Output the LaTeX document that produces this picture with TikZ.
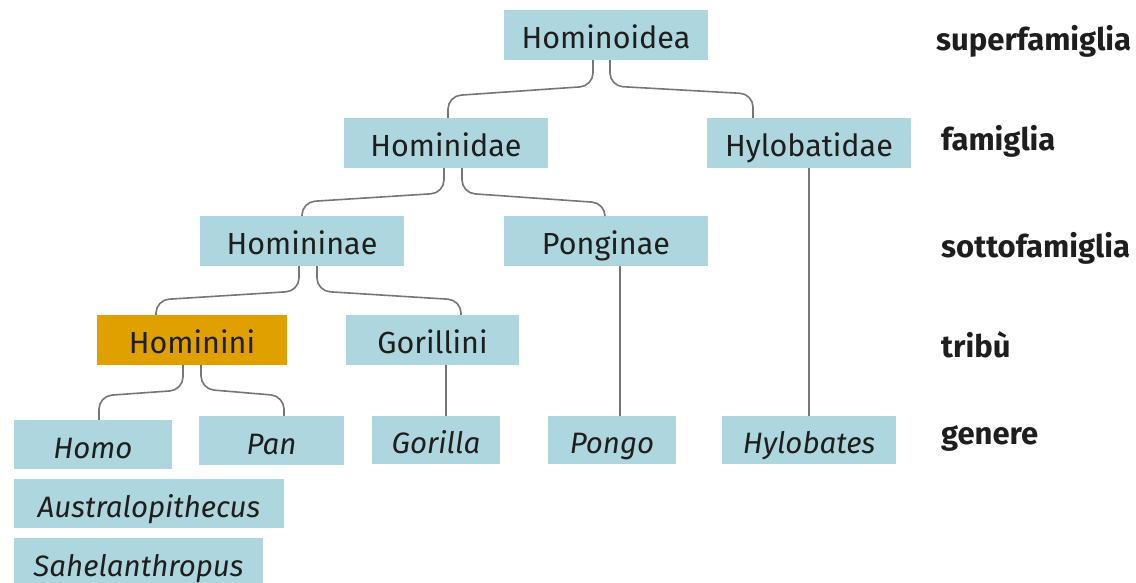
\documentclass[tikz,border=0pt]{standalone}
\usepackage{fontspec}
\setmainfont{Fira Sans}
\begin{document}
\begin{tikzpicture}[x=1pt,y=-1pt,
  box/.style={fill=boxblue, inner sep=0pt, text=txt, font=\fontsize{30.5}{33}\selectfont, text height=27pt, text depth=0pt},
  gen/.style={box, font=\fontsize{29.5}{33}\selectfont\itshape},
  lvl/.style={anchor=base west, inner sep=0pt, text=txt, font=\fontsize{31}{34}\selectfont\bfseries},
  conn/.style={draw=linegray, line width=1.6pt, rounded corners=13pt}]
\definecolor{boxblue}{HTML}{AED6DE}
\definecolor{hlorange}{HTML}{E0A100}
\definecolor{linegray}{HTML}{767676}
\definecolor{txt}{HTML}{1E1E1E}
\useasboundingbox (0,0) rectangle (1136,582);
% nodes
\node[box, minimum width=204, minimum height=50] (hoid) at (606,35) {Hominoidea};
\node[box, minimum width=204, minimum height=50] (hidae) at (446,143) {Hominidae};
\node[box, minimum width=204, minimum height=50] (hylo) at (809,143) {Hylobatidae};
\node[box, minimum width=204, minimum height=50] (hinae) at (302,241) {Homininae};
\node[box, minimum width=204, minimum height=50] (pong) at (606,241) {Ponginae};
\node[box, fill=hlorange, minimum width=190, minimum height=50] (hini) at (192,340) {Hominini};
\node[box, minimum width=173, minimum height=50] (gorin) at (432.5,340) {Gorillini};
\node[gen, minimum width=158, minimum height=49] (homo) at (93,444.5) {Homo};
\node[gen, minimum width=145, minimum height=49] (pan) at (271.5,440.5) {Pan};
\node[gen, minimum width=128, minimum height=48] (gor) at (436,440) {Gorilla};
\node[gen, minimum width=128, minimum height=48] (pongo) at (612,440) {Pongo};
\node[gen, minimum width=174, minimum height=48] (hyl) at (809,440) {Hylobates};
\node[gen, minimum width=270, minimum height=49] (aus) at (149,503.5) {Australopithecus};
\node[gen, minimum width=249, minimum height=50, anchor=north] (sah) at (138.5,538) {Sahelanthropus};
% level labels
\node[lvl] (l1) at (936,50) {superfamiglia};
\node[lvl] (l2) at (941,150) {famiglia};
\node[lvl] (l3) at (941,257) {sottofamiglia};
\node[lvl] (l4) at (941,357) {tribù};
\node[lvl] (l5) at (941,444) {genere};
% connectors
\draw[conn] ([xshift=-13]hoid.south) -- (593,86) -- (448,96) -- ([xshift=2]hidae.north);
\draw[conn] ([xshift=4]hoid.south) -- (610,86) -- (753,94) -- ([xshift=-56]hylo.north);
\draw[conn] ([xshift=-2]hidae.south) -- (444,193) -- (302,202) -- (hinae.north);
\draw[conn] ([xshift=16]hidae.south) -- (462,193) -- (605,203) -- ([xshift=-1]pong.north);
\draw[conn] ([xshift=-3]hinae.south) -- (299,291) -- (156,300) -- ([xshift=-36]hini.north);
\draw[conn] ([xshift=15]hinae.south) -- (317,291) -- (461,300) -- ([xshift=28.5]gorin.north);
\draw[conn] ([xshift=-9]hini.south) -- (183,390) -- (99,396) -- ([xshift=6]homo.north);
\draw[conn] ([xshift=9]hini.south) -- (201,389) -- (284,396) -- ([xshift=12.5]pan.north);
\draw[conn] ([xshift=13.5]gorin.south) -- ([xshift=10]gor.north);
\draw[conn] ([xshift=14]pong.south) -- ([xshift=8]pongo.north);
\draw[conn] (hylo.south) -- (hyl.north);
\end{tikzpicture}
\end{document}
